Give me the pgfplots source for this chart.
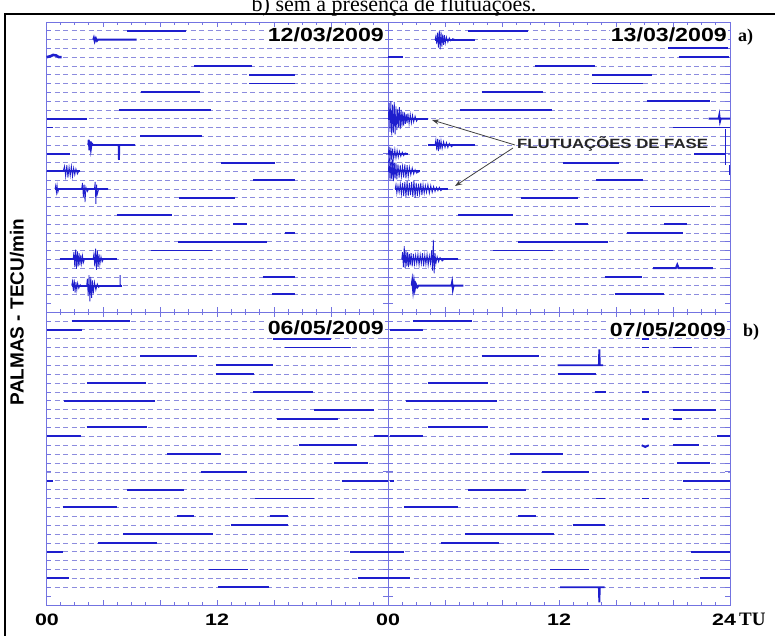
\documentclass[border=0pt]{standalone}
\usepackage{fontspec}
\setmainfont{Liberation Sans}
\newfontfamily\tnr{Liberation Serif}
\usepackage{pgfplots}
\pgfplotsset{compat=1.18}
\usetikzlibrary{arrows.meta}

\definecolor{datacol}{RGB}{30,30,205}
\definecolor{axcol}{RGB}{115,115,225}
\definecolor{gridcol}{RGB}{140,140,222}

\pgfplotsset{
  panel/.style={
    scale only axis, width=342pt, anchor=south west,
    xmin=0, xmax=24, ymin=-1, ymax=32, y dir=reverse,
    axis line style={axcol, line width=0.9pt},
    xtick={0,4,...,24}, minor x tick num=3,
    ytick={0,...,30}, extra y ticks={31}, extra y tick labels={},
    extra y tick style={grid=none},
    xticklabels={}, yticklabels={},
    tick align=inside, tick pos=both,
    major tick length=5pt, minor tick length=3pt,
    every tick/.style={axcol, line width=0.7pt},
    ymajorgrids,
    major grid style={gridcol, dash pattern=on 5pt off 3.5pt, line width=0.6pt},
  },
  seg/.style={datacol, line width=1.9pt, no markers},
  burst/.style={datacol, line width=0.8pt, no markers},
}
\newcommand{\datelab}[1]{\scalebox{1.22}[1]{\fontsize{19}{20}\selectfont\bfseries #1}}
\newcommand{\ticklab}[1]{\scalebox{1.3}[1]{\fontsize{16.5}{17}\selectfont\bfseries #1}}

\begin{document}
\begin{tikzpicture}[x=1pt, y=1pt]
\useasboundingbox (0,0) rectangle (775,635);

% ---- 12/03/2009 ----
\begin{axis}[panel, height=290pt, at={(46pt,323pt)}]
\addplot[seg] coordinates {(5.71,0) (9.80,0)};
\addplot[seg] coordinates {(3.32,1) (3.36,0.8) (3.42,1.2) (3.5,0.85) (3.58,1.15) (3.66,1) (6.36,1)};
\addplot[seg, line width=2.6pt] coordinates {(0.05,3) (0.3,2.9) (0.5,2.75) (0.7,2.8) (0.9,3.0) (1.1,3)};
\addplot[seg] coordinates {(10.39,4) (14.43,4)};
\addplot[seg] coordinates {(14.27,5) (17.47,5)};
\addplot[seg] coordinates {(14.27,6) (17.47,6)};
\addplot[seg] coordinates {(6.64,7) (10.81,7)};
\addplot[seg] coordinates {(5.12,9) (11.56,9)};
\addplot[seg] coordinates {(0.05,10) (2.85,10)};
\addplot[seg] coordinates {(0.05,11) (0.47,11)};
\addplot[seg] coordinates {(6.60,12) (10.97,12)};
\addplot[seg] coordinates {(2.97,13) (3.0,12.4) (3.05,13.6) (3.1,12.6) (3.15,13.4) (3.2,12.8) (3.3,13) (5.1,13) (5.12,14.7) (5.14,13) (6.25,13)};
\addplot[seg] coordinates {(0.05,14) (1.68,14)};
\addplot[seg] coordinates {(12.26,15) (16.09,15)};
\addplot[burst] coordinates {(0.05,16) (1.2,16) (1.3,15.4) (1.38,16.6) (1.46,15.3) (1.54,16.7) (1.62,15.5) (1.7,16.5) (1.78,15.4) (1.86,16.6) (1.94,15.6) (2.02,16.4) (2.1,15.7) (2.2,16.3) (2.3,16) (2.39,16)};
\addplot[seg] coordinates {(0.05,16) (2.39,16)};
\addplot[seg] coordinates {(14.55,17) (17.47,17)};
\addplot[burst] coordinates {(0.63,18) (0.68,17.6) (0.73,18.4) (0.78,17.6) (0.83,18.4) (0.9,18) (2.5,18) (2.56,17.3) (2.62,18.9) (2.68,17.5) (2.74,19.5) (2.8,17.8) (2.9,18.3) (3.0,18) (3.4,18) (3.45,17.2) (3.5,19.7) (3.55,17.5) (3.6,18.6) (3.7,18) (4.37,18)};
\addplot[seg] coordinates {(0.63,18) (4.37,18)};
\addplot[seg] coordinates {(9.36,19) (13.26,19)};
\addplot[seg] coordinates {(4.96,21) (8.82,21)};
\addplot[seg, line width=2.6pt] coordinates {(13.15,22) (14.08,22)};
\addplot[seg] coordinates {(16.77,23) (17.47,23)};
\addplot[seg] coordinates {(9.24,24) (15.49,24)};
\addplot[seg] coordinates {(7.37,25) (11.63,25)};
\addplot[burst] coordinates {(0.98,26) (1.9,26) (1.96,25.2) (2.02,26.9) (2.08,24.9) (2.14,27.1) (2.2,25.1) (2.26,26.8) (2.32,25.3) (2.38,26.7) (2.44,25.5) (2.5,26.5) (2.56,25.6) (2.62,26.4) (2.7,26) (3.3,26) (3.36,25.4) (3.42,26.8) (3.48,24.8) (3.54,27.2) (3.6,25.0) (3.66,26.9) (3.72,25.4) (3.78,26.6) (3.86,25.7) (3.94,26.3) (4.02,26) (4.96,26)};
\addplot[seg] coordinates {(0.98,26) (4.96,26)};
\addplot[seg] coordinates {(15.2,28) (17.47,28)};
\addplot[burst] coordinates {(1.8,29) (1.86,28.5) (1.92,29.6) (1.98,28.3) (2.04,29.8) (2.1,28.6) (2.16,29.5) (2.22,28.7) (2.3,29.3) (2.4,28.9) (2.5,29.1) (2.6,29) (2.85,29) (2.9,28.2) (2.96,30.2) (3.02,27.8) (3.08,30.8) (3.14,28.0) (3.2,30.4) (3.26,28.4) (3.32,29.9) (3.4,28.6) (3.5,29.5) (3.6,28.8) (3.7,29.2) (3.8,29) (5.2,29) (5.2,27.8) (5.22,29) (5.31,29)};
\addplot[seg] coordinates {(1.8,29) (5.31,29)};
\addplot[seg] coordinates {(15.88,30) (17.47,30)};
\end{axis}

% ---- 13/03/2009 ----
\begin{axis}[panel, height=290pt, at={(388pt,323pt)}]
\addplot[seg] coordinates {(5.64,0) (9.80,0)};
\addplot[burst] coordinates {(3.3,1) (3.36,0.6) (3.42,1.5) (3.48,0.2) (3.54,1.9) (3.6,0.0) (3.66,2.1) (3.72,0.1) (3.78,1.8) (3.84,0.4) (3.9,1.6) (3.96,0.5) (4.02,1.4) (4.1,0.7) (4.2,1.3) (4.3,0.8) (4.4,1.15) (4.55,0.9) (4.7,1) (6.1,1)};
\addplot[seg] coordinates {(3.3,1) (6.1,1)};
\addplot[seg] coordinates {(19.67,2) (23.88,2)};
\addplot[seg] coordinates {(0.02,3) (1.08,3)};
\addplot[seg] coordinates {(20.4,3) (23.9,3)};
\addplot[seg] coordinates {(10.3,4) (14.5,4)};
\addplot[seg] coordinates {(14.3,5) (18.5,5)};
\addplot[seg] coordinates {(14.3,6) (17.9,6)};
\addplot[seg] coordinates {(6.57,7) (10.9,7)};
\addplot[seg] coordinates {(18.15,8) (22.6,8)};
\addplot[seg] coordinates {(5.05,9) (11.5,9)};
\addplot[burst] coordinates {(0.02,10) (0.08,8.2) (0.14,11.5) (0.2,8.0) (0.26,11.9) (0.32,8.4) (0.38,11.6) (0.44,8.1) (0.5,11.8) (0.56,8.6) (0.62,11.3) (0.68,8.9) (0.74,11.0) (0.8,8.7) (0.86,11.2) (0.92,9.0) (0.98,10.9) (1.04,9.2) (1.1,10.8) (1.16,9.3) (1.22,10.6) (1.28,9.5) (1.34,10.5) (1.4,9.4) (1.48,10.6) (1.56,9.5) (1.64,10.5) (1.72,9.6) (1.8,10.4) (1.9,9.7) (2.0,10.3) (2.1,10) (2.83,10)};
\addplot[seg] coordinates {(0.02,10) (2.83,10)};
\addplot[seg] coordinates {(22.5,10) (23.2,10) (23.25,9.6) (23.3,10.3) (23.35,10) (24,10)};
\addplot[seg] coordinates {(20.0,11) (24.0,11)};
\addplot[burst] coordinates {(2.83,13) (3.3,13) (3.36,12.4) (3.42,13.6) (3.48,12.3) (3.54,13.7) (3.6,12.4) (3.66,13.5) (3.72,12.5) (3.8,13.4) (3.9,12.6) (4.0,13.3) (4.1,12.7) (4.2,13.3) (4.3,12.8) (4.45,13.2) (4.6,13) (6.1,13)};
\addplot[seg] coordinates {(2.83,13) (6.1,13)};
\addplot[burst] coordinates {(0.02,14) (0.08,13.2) (0.14,14.8) (0.2,13.3) (0.26,14.7) (0.32,13.4) (0.4,14.6) (0.48,13.5) (0.56,14.5) (0.64,13.6) (0.72,14.4) (0.8,13.7) (0.9,14.3) (1.0,13.8) (1.1,14.2) (1.2,13.9) (1.4,14)};
\addplot[seg] coordinates {(0.02,14) (1.4,14)};
\addplot[seg] coordinates {(21.5,14) (23.65,14)};
\addplot[burst, line width=1pt] coordinates {(23.7,11.2) (23.7,15.3)};
\addplot[burst, line width=1pt] coordinates {(23.95,15.3) (23.95,16.4)};
\addplot[burst] coordinates {(0.02,15) (0.1,14.6) (0.2,15.4) (0.3,14.7) (0.4,15.3) (0.5,15)};
\addplot[seg] coordinates {(12.3,15) (16.2,15)};
\addplot[burst] coordinates {(0.02,16) (0.08,14.9) (0.14,17.0) (0.2,15.0) (0.26,16.9) (0.32,14.8) (0.38,17.1) (0.44,15.1) (0.5,16.8) (0.56,15.0) (0.62,16.9) (0.7,15.2) (0.78,16.7) (0.86,15.3) (0.94,16.6) (1.02,15.4) (1.1,16.7) (1.18,15.2) (1.26,16.8) (1.34,15.3) (1.42,16.6) (1.5,15.5) (1.6,16.4) (1.7,15.6) (1.8,16.3) (1.9,15.8) (2.0,16.2) (2.25,16)};
\addplot[seg] coordinates {(0.02,16) (2.25,16)};
\addplot[seg] coordinates {(14.6,17) (17.9,17)};
\addplot[burst] coordinates {(0.5,18) (0.56,17.5) (0.62,18.5) (0.7,17.6) (0.78,18.4) (0.86,17.4) (0.94,18.6) (1.02,17.3) (1.1,18.8) (1.18,17.2) (1.26,18.9) (1.34,17.1) (1.42,18.8) (1.5,17.3) (1.58,18.7) (1.66,17.2) (1.74,18.9) (1.82,17.0) (1.9,19.0) (1.98,17.3) (2.06,18.8) (2.14,17.4) (2.22,18.6) (2.3,17.3) (2.38,18.7) (2.46,17.5) (2.54,18.5) (2.62,17.6) (2.7,18.4) (2.8,17.5) (2.9,18.5) (3.0,17.6) (3.1,18.4) (3.2,17.7) (3.3,18.3) (3.4,17.8) (3.5,18.2) (3.6,17.8) (3.7,18.2) (3.85,18) (4.2,18)};
\addplot[seg] coordinates {(0.5,18) (4.2,18)};
\addplot[seg] coordinates {(9.33,19) (13.36,19)};
\addplot[seg] coordinates {(18.4,20) (22.6,20)};
\addplot[seg] coordinates {(4.94,21) (8.8,21)};
\addplot[seg] coordinates {(13.1,22) (14.06,22)};
\addplot[seg] coordinates {(19.4,22) (21.0,22)};
\addplot[seg] coordinates {(16.75,23) (20.7,23)};
\addplot[seg] coordinates {(9.15,24) (15.46,24)};
\addplot[seg] coordinates {(7.4,25) (11.6,25)};
\addplot[burst] coordinates {(0.96,26) (1.02,25.2) (1.08,26.9) (1.14,24.5) (1.2,27.0) (1.26,25.0) (1.32,26.8) (1.38,25.2) (1.44,26.9) (1.5,25.4) (1.56,26.7) (1.62,25.3) (1.7,26.8) (1.78,25.4) (1.86,26.6) (1.94,25.5) (2.02,26.5) (2.1,25.4) (2.18,26.7) (2.26,25.5) (2.34,26.5) (2.42,25.3) (2.5,26.8) (2.58,25.5) (2.66,26.6) (2.74,25.4) (2.82,26.7) (2.9,25.6) (2.98,26.5) (3.06,25.0) (3.12,27.3) (3.18,23.8) (3.24,27.6) (3.3,25.3) (3.36,26.5) (3.45,25.7) (3.55,26.3) (3.65,25.8) (3.8,26.2) (3.95,26) (4.94,26)};
\addplot[seg] coordinates {(0.96,26) (4.94,26)};
\addplot[seg] coordinates {(18.6,27) (20.2,27) (20.3,26.6) (20.4,27) (22.8,27)};
\addplot[seg] coordinates {(15.2,28) (17.8,28)};
\addplot[seg] coordinates {(1.66,29) (1.7,28.5) (1.76,29.5) (1.82,28.6) (1.88,29.4) (1.95,28.8) (2.05,29.2) (2.15,29) (4.45,29) (4.5,28.6) (4.55,29.4) (4.6,29) (5.29,29)};
\addplot[seg] coordinates {(15.9,30) (19.4,30)};
\end{axis}

% ---- 06/05/2009 ----
\begin{axis}[panel, height=293pt, at={(46pt,30pt)}]
\addplot[seg] coordinates {(1.8,0) (5.9,0)};
\addplot[seg] coordinates {(0.05,1) (2.5,1)};
\addplot[seg] coordinates {(15.9,2) (20.0,2)};
\addplot[seg] coordinates {(16.8,3) (21.4,3)};
\addplot[seg] coordinates {(6.6,4) (10.6,4)};
\addplot[seg] coordinates {(11.9,5) (15.95,5)};
\addplot[seg] coordinates {(11.9,6) (14.6,6)};
\addplot[seg] coordinates {(2.9,7) (7.0,7)};
\addplot[seg] coordinates {(14.55,8) (18.76,8)};
\addplot[seg] coordinates {(1.29,9) (7.65,9)};
\addplot[seg] coordinates {(18.8,10) (23.0,10)};
\addplot[seg] coordinates {(16.2,11) (20.5,11)};
\addplot[seg] coordinates {(2.85,12) (7.1,12)};
\addplot[seg] coordinates {(0.05,13) (2.43,13)};
\addplot[seg] coordinates {(23.0,13) (24.0,13)};
\addplot[seg] coordinates {(17.75,14) (21.8,14)};
\addplot[seg] coordinates {(8.5,15) (12.3,15)};
\addplot[seg] coordinates {(20.2,16) (22.6,16)};
\addplot[seg] coordinates {(10.85,17) (14.13,17)};
\addplot[seg] coordinates {(0.05,18) (0.47,18)};
\addplot[seg] coordinates {(20.75,18) (24.0,18)};
\addplot[seg] coordinates {(5.66,19) (9.68,19)};
\addplot[seg] coordinates {(14.7,20) (18.8,20)};
\addplot[seg] coordinates {(1.17,21) (5.0,21)};
\addplot[seg] coordinates {(9.2,22) (10.4,22)};
\addplot[seg] coordinates {(15.7,22) (17.0,22)};
\addplot[seg] coordinates {(13.0,23) (16.96,23)};
\addplot[seg] coordinates {(5.43,24) (11.7,24)};
\addplot[seg] coordinates {(3.67,25) (7.8,25)};
\addplot[seg] coordinates {(0.05,26) (1.22,26)};
\addplot[seg] coordinates {(21.3,26) (24.0,26)};
\addplot[seg] coordinates {(11.46,28) (14.2,28)};
\addplot[seg] coordinates {(0.05,29) (1.64,29)};
\addplot[seg] coordinates {(21.9,29) (24.0,29)};
\addplot[seg] coordinates {(12.1,30) (15.67,30)};
\end{axis}

% ---- 07/05/2009 ----
\begin{axis}[panel, height=293pt, at={(388pt,30pt)}]
\addplot[seg] coordinates {(1.78,0) (5.92,0)};
\addplot[seg] coordinates {(0.14,1) (2.48,1)};
\addplot[seg] coordinates {(17.8,2) (18.3,2)};
\addplot[seg] coordinates {(17.8,3) (18.3,3)};
\addplot[seg] coordinates {(20.0,3) (21.36,3)};
\addplot[seg] coordinates {(6.57,4) (10.6,4)};
\addplot[seg] coordinates {(11.9,5) (14.8,5) (14.83,3.2) (14.86,5) (15.1,5)};
\addplot[seg] coordinates {(11.9,6) (14.6,6)};
\addplot[seg] coordinates {(2.83,7) (7.0,7)};
\addplot[seg] coordinates {(14.5,8) (15.3,8)};
\addplot[seg] coordinates {(17.8,8) (18.3,8)};
\addplot[seg] coordinates {(1.24,9) (7.67,9)};
\addplot[seg] coordinates {(20.0,10) (23.0,10)};
\addplot[seg] coordinates {(17.8,11) (18.3,11)};
\addplot[seg] coordinates {(20.0,11) (20.6,11)};
\addplot[seg] coordinates {(2.83,12) (7.04,12)};
\addplot[seg] coordinates {(0.14,13) (2.48,13)};
\addplot[seg] coordinates {(23.1,13) (24,13)};
\addplot[seg] coordinates {(17.8,14) (18.05,14.2) (18.3,14)};
\addplot[seg] coordinates {(20.0,14) (21.8,14)};
\addplot[seg] coordinates {(8.56,15) (12.26,15)};
\addplot[seg] coordinates {(20.3,16) (22.6,16)};
\addplot[seg] coordinates {(10.8,17) (14.1,17)};
\addplot[seg] coordinates {(0.14,18) (0.4,18)};
\addplot[seg] coordinates {(20.7,18) (24,18)};
\addplot[seg] coordinates {(5.6,19) (9.66,19)};
\addplot[seg] coordinates {(14.6,20) (15.2,20)};
\addplot[seg] coordinates {(17.8,20) (18.3,20)};
\addplot[seg] coordinates {(1.15,21) (4.94,21)};
\addplot[seg] coordinates {(9.15,22) (10.4,22)};
\addplot[seg] coordinates {(12.96,23) (15.2,23)};
\addplot[seg] coordinates {(5.4,24) (11.67,24)};
\addplot[seg] coordinates {(3.7,25) (7.8,25)};
\addplot[seg] coordinates {(0,26) (1.15,26)};
\addplot[seg] coordinates {(21.26,26) (24,26)};
\addplot[seg] coordinates {(11.4,28) (14.1,28)};
\addplot[seg] coordinates {(0,29) (1.54,29)};
\addplot[seg] coordinates {(21.9,29) (24,29)};
\addplot[seg] coordinates {(12.07,30) (14.8,30) (14.83,31.7) (14.86,30) (15.2,30)};
\end{axis}

% frame and caption
\draw[line width=2.5pt] (5pt,-5pt) -- (5pt,621pt) -- (790pt,621pt);
\node[anchor=base] at (394pt,623pt) {\tnr\fontsize{22}{24}\selectfont b) sem a presença de flutuações.};

% y label
\node[rotate=90] at (17pt,323pt) {\fontsize{19}{20}\selectfont\bfseries PALMAS - TECU/min};

% panel labels
\node[anchor=base east, fill=white, inner sep=1pt] at (385pt,593pt) {\datelab{12/03/2009}};
\node[anchor=base east, fill=white, inner sep=1pt] at (728pt,593pt) {\datelab{13/03/2009}};
\node[anchor=base west, inner sep=0pt] at (738pt,593pt) {\tnr\bfseries\fontsize{18}{20}\selectfont a)};
\node[anchor=base east, fill=white, inner sep=1pt] at (385pt,301pt) {\datelab{06/05/2009}};
\node[anchor=base east, fill=white, inner sep=1pt] at (727pt,299pt) {\datelab{07/05/2009}};
\node[anchor=base west, inner sep=0pt] at (743pt,299pt) {\tnr\bfseries\fontsize{18}{20}\selectfont b)};

% annotation
\node[anchor=west, inner sep=0pt, text=black!85] at (517pt,491pt) {\scalebox{1.25}[1]{\fontsize{13.4}{14}\selectfont\bfseries FLUTUAÇÕES DE FASE}};
\draw[black!75, line width=0.8pt, -{Stealth[length=7pt, width=5pt]}] (515pt,490pt) -- (432pt,515pt);
\draw[black!75, line width=0.8pt, -{Stealth[length=7pt, width=5pt]}] (513pt,487pt) -- (455pt,449pt);

% time labels
\node[anchor=base] at (47pt,10pt) {\ticklab{00}};
\node[anchor=base] at (217pt,10pt) {\ticklab{12}};
\node[anchor=base] at (388pt,10pt) {\ticklab{00}};
\node[anchor=base] at (559pt,10pt) {\ticklab{12}};
\node[anchor=base] at (724pt,10pt) {\ticklab{24}};
\node[anchor=base west, inner sep=0pt] at (739pt,10pt) {\tnr\bfseries\fontsize{19}{20}\selectfont TU};
\end{tikzpicture}
\end{document}
